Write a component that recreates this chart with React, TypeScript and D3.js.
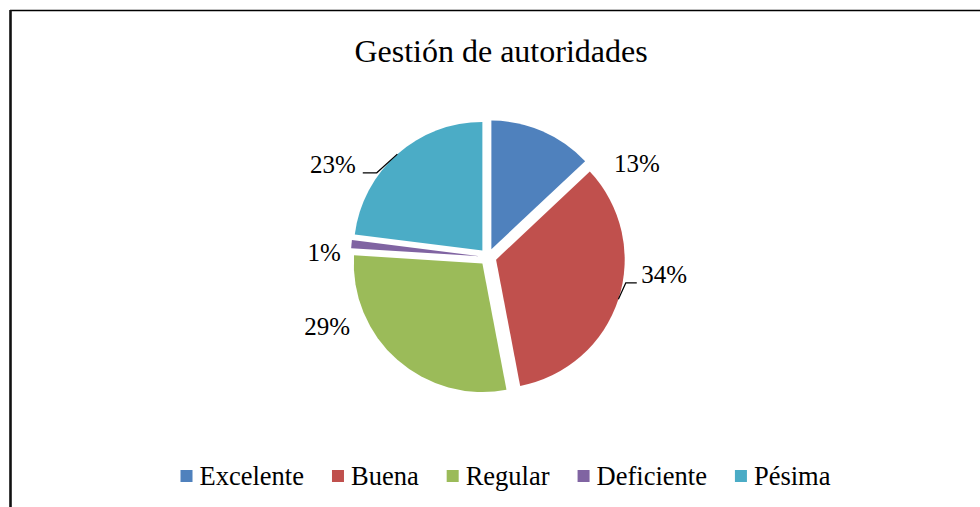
import { useEffect, useRef } from "react"
import * as d3 from "d3"

const categories = ["Excelente", "Buena", "Regular", "Deficiente", "Pésima"]
const values = [13, 34, 29, 1, 23]
const colors = ["#4F81BD", "#C0504D", "#9BBB59", "#8064A2", "#4BACC6"]
const title = "Gestión de autoridades"

// label placement (Excel moved some of them by hand)
const labelAngle = [57.8, 95.5, 246.8, 271.7, 301]
const labelRadius = [176, 177, 175, 164, 181]
const showLeader = [false, true, false, false, true]

const W = 980
const H = 507
const FONT = "'Liberation Serif', 'Times New Roman', serif"

export default function App() {
  const svgRef = useRef<SVGSVGElement>(null)

  useEffect(() => {
    if (!svgRef.current) return
    const svg = d3.select(svgRef.current)
    svg.selectAll("*").remove()

    svg.append("rect").attr("width", W).attr("height", H).attr("fill", "#fff")

    // frame (cropped chart border)
    svg.append("line")
      .attr("x1", 10).attr("x2", W).attr("y1", 10.5).attr("y2", 10.5)
      .attr("stroke", "#000").attr("stroke-width", 1.6)
    svg.append("line")
      .attr("x1", 10.5).attr("x2", 10.5).attr("y1", 10).attr("y2", H)
      .attr("stroke", "#111").attr("stroke-width", 2.6)

    svg.append("text")
      .attr("x", 501).attr("y", 62)
      .attr("text-anchor", "middle")
      .attr("font-family", FONT).attr("font-size", 32)
      .text(title)

    const cx = 488
    const cy = 257
    const r = 128.6
    const explode = 8.5
    const rad = Math.PI / 180

    const pie = d3.pie<number>().sort(null).value(d => d)
    const arcs = pie(values)
    const arc = d3.arc<d3.PieArcDatum<number>>().innerRadius(0).outerRadius(r)

    const g = svg.append("g").attr("transform", `translate(${cx},${cy})`)

    const off = (a: d3.PieArcDatum<number>) => {
      const m = (a.startAngle + a.endAngle) / 2
      return [Math.sin(m) * explode, -Math.cos(m) * explode]
    }

    g.selectAll("path.slice")
      .data(arcs)
      .join("path")
      .attr("class", "slice")
      .attr("d", arc)
      .attr("transform", d => `translate(${off(d).join(",")})`)
      .attr("fill", (_, i) => colors[i])

    // labels
    arcs.forEach((a, i) => {
      const la = labelAngle[i] * rad
      const lx = Math.sin(la) * labelRadius[i]
      const ly = -Math.cos(la) * labelRadius[i]
      const t = g.append("text")
        .attr("x", lx).attr("y", ly + 9)
        .attr("text-anchor", "middle")
        .attr("font-family", FONT).attr("font-size", 25)
        .text(`${values[i]}%`)
      if (!showLeader[i]) return
      const tw = (t.node() as SVGTextElement).getComputedTextLength()
      const m = (a.startAngle + a.endAngle) / 2
      const [ox, oy] = off(a)
      const ex = ox + Math.sin(m) * r
      const ey = oy - Math.cos(m) * r
      const right = lx > 0
      const x0 = right ? lx - tw / 2 - 4.5 : lx + tw / 2 + 7
      const x1 = right ? x0 - 11 : x0 + 14
      const yb = ly + 9
      g.append("path")
        .attr("d", `M${x0},${yb}H${x1}L${ex},${ey}`)
        .attr("fill", "none")
        .attr("stroke", "#000")
        .attr("stroke-width", 1.2)
    })

    // legend
    const legend = svg.append("g")
    let x = 0
    categories.forEach((c, i) => {
      legend.append("rect")
        .attr("x", x).attr("y", -6).attr("width", 12).attr("height", 12)
        .attr("fill", colors[i])
      const t = legend.append("text")
        .attr("x", x + 19).attr("y", 9)
        .attr("font-family", FONT).attr("font-size", 26.5)
        .text(c)
      const tw = (t.node() as SVGTextElement).getComputedTextLength()
      x += 19 + tw + 28
    })
    const total = x - 28
    legend.attr("transform", `translate(${505.5 - total / 2},476)`)
  }, [])

  return (
    <div style={{ position: "absolute", left: 0, top: 0 }}>
      <svg ref={svgRef} width={W} height={H} style={{ display: "block" }} />
    </div>
  )
}
